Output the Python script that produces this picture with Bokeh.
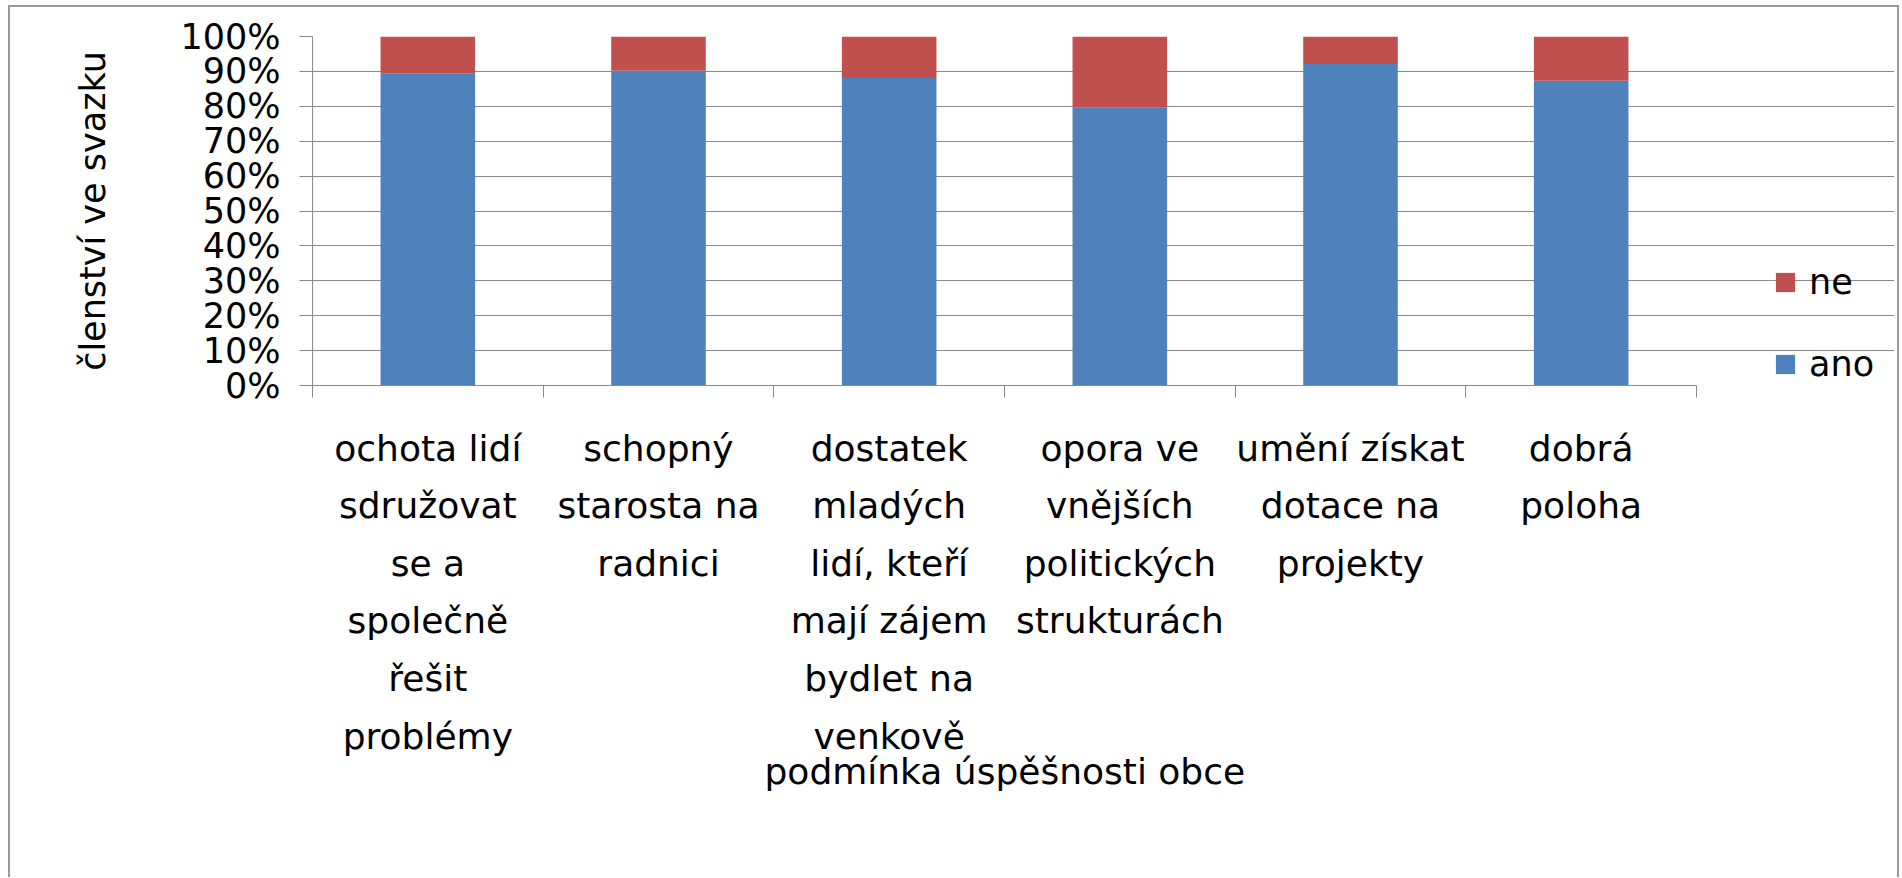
from bokeh.plotting import figure
from bokeh.models import (Range1d, FixedTicker, NumeralTickFormatter, Legend, LegendItem,
                          ColumnDataSource, Title)
from bokeh.embed import file_html
from bokeh.resources import INLINE

# ---- data ----
categories = [
    "ochota lidí\nsdružovat\nse a\nspolečně\nřešit\nproblémy",
    "schopný\nstarosta na\nradnici",
    "dostatek\nmladých\nlidí, kteří\nmají zájem\nbydlet na\nvenkově",
    "opora ve\nvnějších\npolitických\nstrukturách",
    "umění získat\ndotace na\nprojekty",
    "dobrá\npoloha",
]
ano = [0.893, 0.902, 0.881, 0.796, 0.921, 0.873]
ne = [0.107, 0.098, 0.119, 0.204, 0.079, 0.127]
series = ["ano", "ne"]
colors = ["#4F81BD", "#C0504D"]
y_ticks = [0.0, 0.1, 0.2, 0.3, 0.4, 0.5, 0.6, 0.7, 0.8, 0.9, 1.0]
y_title = "členství ve svazku"
x_title = "podmínka úspěšnosti obce"

FONT = "DejaVu Sans"
GRAY = "#8A8A8A"

# layout (pixels)
W, H = 1891, 872
LEFT, TOP, RIGHT, BOTTOM = 304, 31, 5, 492
PLOT_W = 1384                      # width of the category area
FRAME_W = W - LEFT - RIGHT         # frame also holds the legend on its right

n = len(categories)
centers = [i + 0.5 for i in range(n)]
bounds = list(range(n + 1))
x_end = n * FRAME_W / PLOT_W
src = ColumnDataSource(dict(x=centers, cat=categories, ano=ano, ne=ne))

p = figure(x_range=Range1d(0, x_end), y_range=Range1d(0, 1),
           width=W, height=H, output_backend="svg", toolbar_location=None,
           min_border_left=LEFT, min_border_top=TOP,
           min_border_right=RIGHT, min_border_bottom=BOTTOM,
           background_fill_color="white", border_fill_alpha=0)
p.outline_line_color = None
p.styles = {"margin-left": "8px", "margin-top": "5px",
            "box-shadow": "inset 2px 0 0 #9A9A9A, inset -2px 0 0 #9A9A9A, inset 0 2px 0 #9A9A9A"}

renderers = p.vbar_stack(series, x="x", width=0.41, color=colors, line_color=None, source=src)

# y axis
ya = p.yaxis[0]
ya.ticker = FixedTicker(ticks=y_ticks)
ya.formatter = NumeralTickFormatter(format="0%")
ya.major_label_text_font = FONT
ya.major_label_text_font_size = "35px"
ya.major_label_text_color = "black"
ya.major_tick_out = 13
ya.major_tick_in = 0
ya.major_tick_line_color = GRAY
ya.minor_tick_line_color = None
ya.axis_line_color = GRAY
ya.major_label_standoff = 19
ya.axis_label = y_title
ya.axis_label_text_font = FONT
ya.axis_label_text_font_size = "35px"
ya.axis_label_text_font_style = "normal"
ya.axis_label_text_color = "black"
ya.axis_label_standoff = 64

p.ygrid.grid_line_color = GRAY
p.ygrid.ticker = FixedTicker(ticks=y_ticks)
p.ygrid.bounds = (0, n)
p.xgrid.grid_line_color = None

# x axis: labels at category centres, separator ticks at boundaries
xa = p.xaxis[0]
xa.bounds = (0, n)
xa.ticker = FixedTicker(ticks=centers, minor_ticks=bounds)
xa.major_label_overrides = {c: lab for c, lab in zip(centers, categories)}
xa.axis_line_color = GRAY
xa.major_tick_line_color = None
xa.major_tick_out = 0
xa.major_tick_in = 0
xa.minor_tick_line_color = GRAY
xa.minor_tick_out = 12
xa.minor_tick_in = 0
xa.major_label_standoff = 30
xa.major_label_text_font = FONT
xa.major_label_text_font_size = "36px"
xa.major_label_text_color = "black"
xa.major_label_text_line_height = 1.406

# x axis title, centred under the category area (not the whole frame)
xt = Title(text=x_title, align="left", offset=452, standoff=-22,
           text_font=FONT, text_font_size="36px", text_font_style="normal",
           text_color="black")
p.add_layout(xt, "below")

legend = Legend(items=[LegendItem(label="ne", renderers=[renderers[1]]),
                       LegendItem(label="ano", renderers=[renderers[0]])],
                location=(1461, 1), glyph_width=24, glyph_height=24,
                label_text_font=FONT, label_text_font_size="35px", label_text_color="black",
                label_standoff=12, spacing=42, padding=0, margin=0,
                border_line_color=None, background_fill_alpha=0)
p.add_layout(legend)

open("out.html", "w").write(file_html(p, INLINE))
